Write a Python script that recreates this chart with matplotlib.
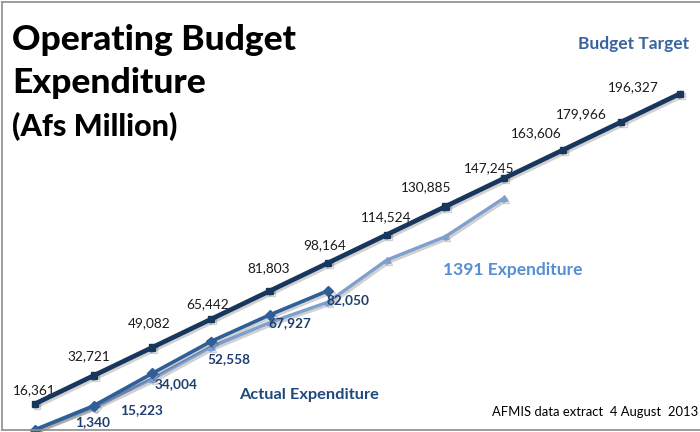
import matplotlib
matplotlib.use("Agg")
import matplotlib.pyplot as plt
import matplotlib.patheffects as pe

plt.rcParams['font.family'] = ['Lato', 'DejaVu Sans']

# months of the year (1..12)
months = list(range(1, 13))
budget_target = [16361, 32721, 49082, 65442, 81803, 98164, 114524,
                 130885, 147245, 163606, 179966, 196327]
actual_months = list(range(1, 7))
actual_spend = [1340, 15223, 34004, 52558, 67927, 82050]
prev_months = list(range(1, 10))
prev_year_spend = [1300, 14500, 30800, 49300, 63500, 75400, 99800, 113400, 135800]

# label offsets in pixels (dx, dy) from each point
budget_offsets = [(-1, 14), (-5, 19), (-3, 24), (-3, 15), (-1, 23), (-4, 18),
                  (-1, 17), (-19, 19), (-15, 10), (-26, 17), (-40, 8), (-47, 7)]
actual_offsets = [(58, 8), (48, -4), (24, -11), (18, -18), (20, -8), (20, -9)]

C_TARGET = '#17375e'
C_ACTUAL = '#2f5f98'
C_PREV = '#7f9fd0'

fig = plt.figure(figsize=(7, 4.32), dpi=100)
ax = fig.add_axes([0, 0, 1, 1])
ax.set_xlim(1 - 35 / 58.64, 12 + 20 / 58.64)
ax.set_ylim(0, 250700)
ax.axis('off')

shadow = [pe.SimpleLineShadow(offset=(1.5, -1.5), alpha=0.18), pe.Normal()]

ax.plot(prev_months, prev_year_spend, color=C_PREV, lw=2.4, marker='^', ms=4,
        path_effects=shadow, zorder=2, clip_on=False)
ax.plot(actual_months, actual_spend, color=C_ACTUAL, lw=2.6, marker='D', ms=5,
        path_effects=shadow, zorder=3, clip_on=False)
ax.plot(months, budget_target, color=C_TARGET, lw=3.4, marker='s', ms=4.5,
        path_effects=shadow, zorder=4, clip_on=False)

for m, v, (dx, dy) in zip(months, budget_target, budget_offsets):
    ax.annotate(f'{v:,}', (m, v), xytext=(dx, dy), textcoords='offset pixels',
                ha='center', va='center', fontsize=9.8, color='#1a1a1a')

for m, v, (dx, dy) in zip(actual_months, actual_spend, actual_offsets):
    ax.annotate(f'{v:,}', (m, v), xytext=(dx, dy), textcoords='offset pixels',
                ha='center', va='center', fontsize=9.8, color='#1f3f6e',
                fontweight='bold')

# series captions
fig.text(689 / 700, 1 - 44 / 432, 'Budget Target', ha='right', va='center',
         fontsize=12.5, fontweight='bold', color='#3a64a0')
fig.text(239 / 700, 1 - 395 / 432, 'Actual Expenditure', ha='left', va='center',
         fontsize=11.8, fontweight='bold', color='#1f497d')
fig.text(443 / 700, 1 - 270 / 432, '1391 Expenditure', ha='left', va='center',
         fontsize=12.5, fontweight='bold', color='#558ed5')

# title block
fig.text(12 / 700, 1 - 40 / 432, 'Operating Budget', ha='left', va='center',
         fontsize=25.5, fontweight='black', color='black')
fig.text(12 / 700, 1 - 83 / 432, 'Expenditure', ha='left', va='center',
         fontsize=25.5, fontweight='black', color='black')
fig.text(12 / 700, 1 - 127 / 432, '(Afs Million)', ha='left', va='center',
         fontsize=22, fontweight='black', color='black')

fig.text(698 / 700, 1 - 412 / 432, 'AFMIS data extract  4 August  2013',
         ha='right', va='center', fontsize=9.4, color='black')

# frame on left, top and bottom
for x0, y0, x1, y1 in [(2, 2, 2, 430), (2, 2, 700, 2), (2, 430, 700, 430)]:
    fig.add_artist(plt.Line2D([x0 / 700, x1 / 700], [1 - y0 / 432, 1 - y1 / 432],
                              color='#8c8c8c', lw=1.2, transform=fig.transFigure))

fig.savefig('out.png', dpi=100)
